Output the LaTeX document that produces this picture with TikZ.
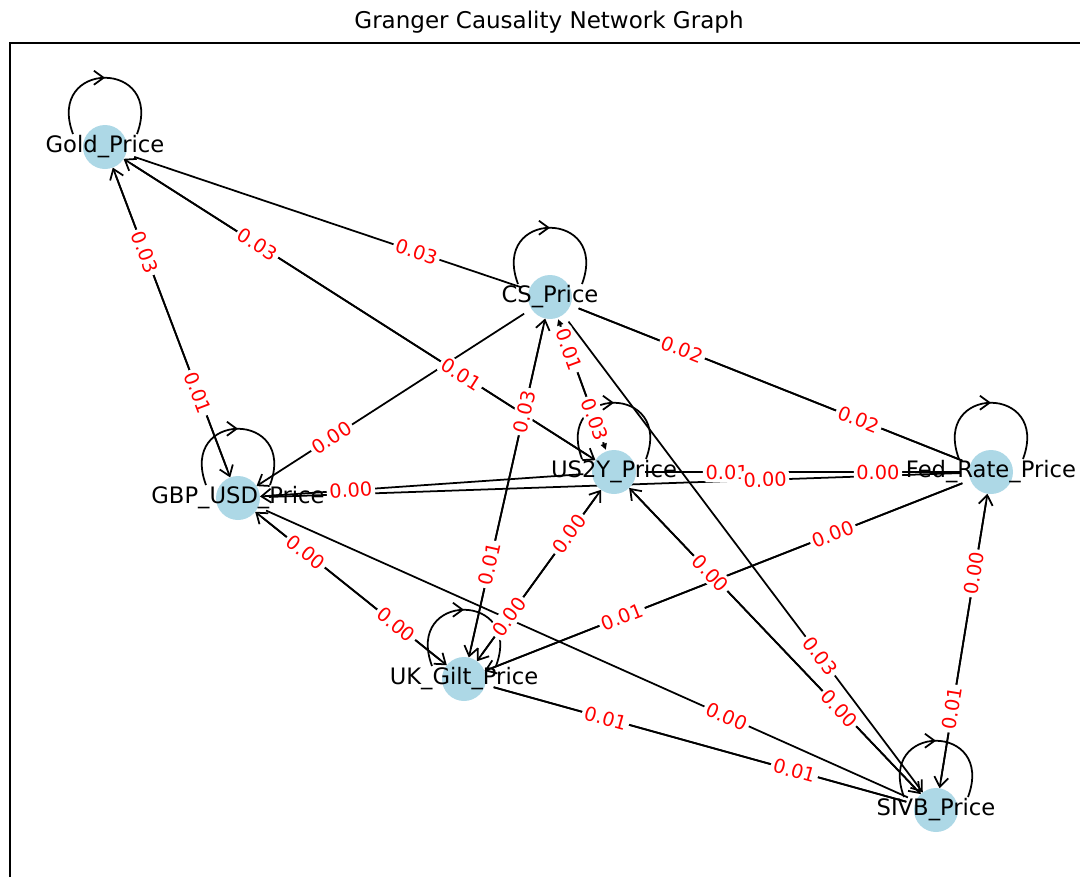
\documentclass[tikz,border=0pt]{standalone}
\usepackage{fontspec}
\setmainfont{DejaVu Sans}
\usetikzlibrary{arrows.meta,decorations.markings,backgrounds}

\definecolor{nodeblue}{RGB}{173,216,230}
\tikzset{
    vertex/.style={circle, fill=nodeblue, minimum size=0.88cm, inner sep=0pt, outer sep=0pt},
    vname/.style={font=\fontsize{12.9}{15}\selectfont, inner sep=0pt},
    link/.style={line width=1pt, shorten <=5pt,
        -{Straight Barb[length=5.5pt,width=8pt]}},
    stub/.style={line width=1pt, shorten <=5pt, shorten >=5pt},
    tiny/.style={line width=1pt, shorten <=5pt, shorten >=1pt,
        -{Triangle[length=3.5pt,width=3.5pt]}},
    selfloop/.style={
        line width=1pt,
        postaction=decorate,
        decoration={markings,
            mark=at position 0.5 with {\arrow{Straight Barb[length=5.5pt,width=8pt]}}}
    },
    wlabel/.style={font=\fontsize{11}{13}\selectfont, text=red, fill=white,
        rounded corners=2pt, inner sep=1.5pt, sloped}
}

% source/target/p-value/tip style
\def\causal{gbp/gold/0.03/link, gold/gbp/0.01/link,
    us2y/gold/0.03/link, gold/us2y/0.01/link, gold/cs/0.03/stub,
    cs/gbp/0.00/link, cs/fed/0.02/stub, fed/cs/0.02/stub,
    us2y/cs/0.01/tiny, cs/us2y/0.03/tiny, gilt/cs/0.03/link, cs/gilt/0.01/link,
    cs/sivb/0.03/link, us2y/gbp/0.00/link, fed/us2y/0.01/stub, us2y/fed/0.00/stub,
    gbp/fed/0.00/stub, gilt/us2y/0.00/link, us2y/gilt/0.00/link,
    sivb/us2y/0.00/link, us2y/sivb/0.00/link, gilt/gbp/0.00/link, gbp/gilt/0.00/link,
    gbp/sivb/0.00/stub, gilt/fed/0.00/stub, fed/gilt/0.01/link,
    sivb/fed/0.00/link, fed/sivb/0.01/link, gilt/sivb/0.01/stub, sivb/gilt/0.01/stub}

\begin{document}
\begin{tikzpicture}[x=0.02cm, y=-0.02cm]
    \useasboundingbox (0,0) rectangle (1080,877);

    % axes frame and title
    \draw[line width=0.8pt] (10,877) -- (10,43) -- (1080,43);
    \node[font=\fontsize{13.1}{16}\selectfont] (title) at (549,22) {Granger Causality Network Graph};

    % series
    \node[vertex] (gold) at (105,147) {};
    \node[vertex] (cs)   at (550,297) {};
    \node[vertex] (us2y) at (614,472) {};
    \node[vertex] (fed)  at (991,472) {};
    \node[vertex] (gbp)  at (238,498) {};
    \node[vertex] (gilt) at (464,679) {};
    \node[vertex] (sivb) at (936,810) {};

    \node[vname] (goldtxt) at (gold) {Gold\_Price};
    \node[vname] (cstxt)   at (cs)   {CS\_Price};
    \node[vname] (us2ytxt) at (us2y) {US2Y\_Price};
    \node[vname] (fedtxt)  at (fed)  {Fed\_Rate\_Price};
    \node[vname] (gbptxt)  at (gbp)  {GBP\_USD\_Price};
    \node[vname] (gilttxt) at (gilt) {UK\_Gilt\_Price};
    \node[vname] (sivbtxt) at (sivb) {SIVB\_Price};

    \begin{scope}[on background layer]
        \foreach \n in {gold,cs,us2y,fed,gbp,gilt,sivb}
            \draw[selfloop] ([shift={(-32,-13)}]\n.center)
                .. controls +(-28,-75) and +(28,-75) .. ([shift={(32,-13)}]\n.center);
        \foreach \s/\t/\w/\k in \causal
            \draw[\k] (\s) -- (\t);
    \end{scope}

    % p-values near the head of each edge
    \foreach \s/\t/\w/\k in \causal
        \path (\s.center) -- node[wlabel, pos=0.7] {\w} (\t.center);
\end{tikzpicture}
\end{document}
